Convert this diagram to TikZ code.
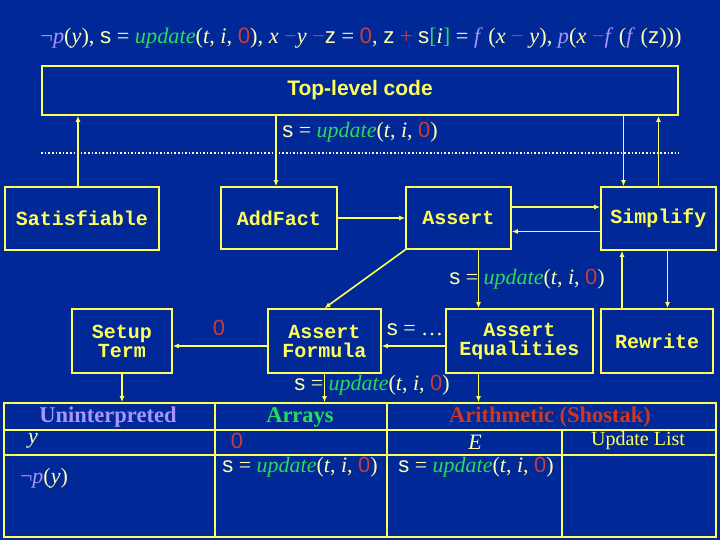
\documentclass[tikz,border=0pt]{standalone}
\usepackage{fontspec}
\setmainfont{Liberation Serif}
\setsansfont{Liberation Sans}
\setmonofont{Liberation Mono}
\usetikzlibrary{arrows.meta}
\definecolor{bgblue}{RGB}{0,40,150}
\definecolor{lineyellow}{RGB}{255,255,90}
\definecolor{paleyellow}{RGB}{255,255,175}
\definecolor{numred}{RGB}{200,60,60}
\definecolor{arrgreen}{RGB}{40,220,90}
\definecolor{unlav}{RGB}{165,150,255}
\definecolor{arithred}{RGB}{205,55,35}
\newcommand{\itv}[1]{\textit{#1}}
\newcommand{\redtxt}[1]{\textcolor{numred}{#1}}
\newcommand{\grntxt}[1]{\textcolor{arrgreen}{#1}}
\newcommand{\lavtxt}[1]{\textcolor{unlav}{#1}}
\newcommand{\updexpr}{\textsf{s} = \grntxt{\itv{update}}(\itv{t}, \itv{i}, \redtxt{\textsf{0}})}

\begin{document}
\begin{tikzpicture}[x=1pt, y=-1pt, >={Latex[length=6pt,width=5pt]},
	every node/.style={font=\fontsize{22}{26}\selectfont, text=paleyellow},
	box/.style={draw=lineyellow, line width=1.6pt, inner sep=0pt, align=center, text=lineyellow, font=\ttfamily\bfseries\fontsize{20}{19}\selectfont},
	conn/.style={draw=lineyellow, line width=1.6pt},
	head/.style={font=\bfseries\fontsize{22.5}{26}\selectfont}]
	% background
	\fill[bgblue] (0,0) rectangle (720,540);
	\useasboundingbox (0,0) rectangle (720,540);
	% the formula
	\node[font=\fontsize{22.3}{26}\selectfont] (formula) at (361,38) {\lavtxt{¬\itv{p}}(\itv{y}), \textsf{s} = \grntxt{\itv{update}}(\itv{t}, \itv{i}, \redtxt{\textsf{0}}), \itv{x} \redtxt{−}\itv{y} \redtxt{−}\textsf{z} = \redtxt{\textsf{0}}, \textsf{z} \redtxt{+} \textsf{s}\grntxt{[}\itv{i}\grntxt{]} = \lavtxt{\itv{f}} (\itv{x} \redtxt{−} \itv{y}), \lavtxt{\itv{p}}(\itv{x} \redtxt{−}\lavtxt{\itv{f}} (\lavtxt{\itv{f}} (\textsf{z})))};
	% top-level code
	\node[box, minimum width=636, minimum height=49, font=\sffamily\bfseries\fontsize{21}{25}\selectfont] (top) at (360,90.5) {Top-level code};
	\draw[white!85!yellow, line width=1.6pt, dotted] ([yshift=-37pt]top.south west) -- ([yshift=-37pt]top.south east);
	\node (lbltop) at (360,132) {\updexpr};
	% first row of boxes
	\node[box, minimum width=154, minimum height=63] (sat) at (82,218.5) {Satisfiable};
	\node[box, minimum width=116, minimum height=62] (add) at (279,218) {AddFact};
	\node[box, minimum width=105, minimum height=62] (assert) at (458.5,218) {Assert};
	\node[box, minimum width=115, minimum height=63] (simp) at (658.5,218.5) {Simplify};
	\draw[conn, ->] ([xshift=-4pt]sat.north) -- ([xshift=-4pt]sat.north |- top.south);
	\draw[conn, ->] ([xshift=-3pt]add.north |- top.south) -- ([xshift=-3pt]add.north);
	\draw[conn, ->] ([xshift=-35pt]simp.north |- top.south) -- ([xshift=-35pt]simp.north);
	\draw[conn, ->] (simp.north) -- (simp.north |- top.south);
	\draw[conn, ->] (add.east) -- (assert.west);
	\draw[conn, ->] ([yshift=11pt]assert.east) -- ([yshift=11pt]assert.east -| simp.west);
	\draw[conn, ->] ([yshift=-13pt]simp.west) -- ([yshift=-13pt]simp.west -| assert.east);
	% second row of boxes
	\node[box, minimum width=100, minimum height=64] (setup) at (122,341) {Setup\\Term};
	\node[box, minimum width=113, minimum height=64] (af) at (324.5,341) {Assert\\Formula};
	\node[box, minimum width=147, minimum height=64] (ae) at (519.5,341) {Assert\\Equalities};
	\node[box, minimum width=112, minimum height=64] (rw) at (657,341) {Rewrite};
	\draw[conn, ->] (assert.south west) -- (af.north);
	\draw[conn, ->] ([xshift=20pt]assert.south) -- ([xshift=20pt]assert.south |- ae.north);
	\node (lblae) at (527,279) {\updexpr};
	\draw[conn, ->] ([xshift=-35pt]rw.north) -- ([xshift=-35pt]rw.north |- simp.south);
	\draw[conn, ->] ([xshift=9pt]simp.south) -- ([xshift=9pt]simp.south |- rw.north);
	\draw[conn, ->] ([yshift=-5pt]ae.west) -- ([yshift=-5pt]ae.west -| af.east);
	\draw[conn, ->] ([yshift=-5pt]af.west) -- ([yshift=-5pt]af.west -| setup.east);
	\node (lblzero) at (219,328) {\redtxt{\textsf{0}}};
	\node (lbldots) at (415,330) {\textsf{s} = \ldots};
	% the table of theories
	\node[draw=lineyellow, line width=1.6pt, minimum width=712, minimum height=134, inner sep=0pt] (tab) at (360,470) {};
	\draw[conn] (4,430) -- (716,430);
	\draw[conn] (4,455) -- (716,455);
	\draw[conn] (215,403) -- (215,537);
	\draw[conn] (387,403) -- (387,537);
	\draw[conn] (562,430) -- (562,537);
	\draw[conn, ->] (setup.south) -- (setup.south |- tab.north);
	\draw[conn, ->] (af.south) -- (af.south |- tab.north);
	\draw[conn, ->] ([xshift=-41pt]ae.south) -- ([xshift=-41pt]ae.south |- tab.north);
	\node (lblaf) at (372,385) {\updexpr};
	\node[head, text=unlav] (uninterp) at (108,417) {Uninterpreted};
	\node[head, text=arrgreen] (arrays) at (300,417) {Arrays};
	\node[head, text=arithred] (arith) at (550,417) {Arithmetic (Shostak)};
	\node (celly) at (33,441) {\itv{y}};
	\node (cellzero) at (237,441) {\redtxt{\textsf{0}}};
	\node (celle) at (475,442) {\itv{E}};
	\node[font=\fontsize{20}{24}\selectfont, text=lineyellow] (cellupd) at (638,441) {Update List};
	\node (cellnp) at (44,478) {\lavtxt{¬\itv{p}}(\itv{y})};
	\node (cellarr) at (300,467) {\updexpr};
	\node (cellarith) at (476,467) {\updexpr};
\end{tikzpicture}
\end{document}
